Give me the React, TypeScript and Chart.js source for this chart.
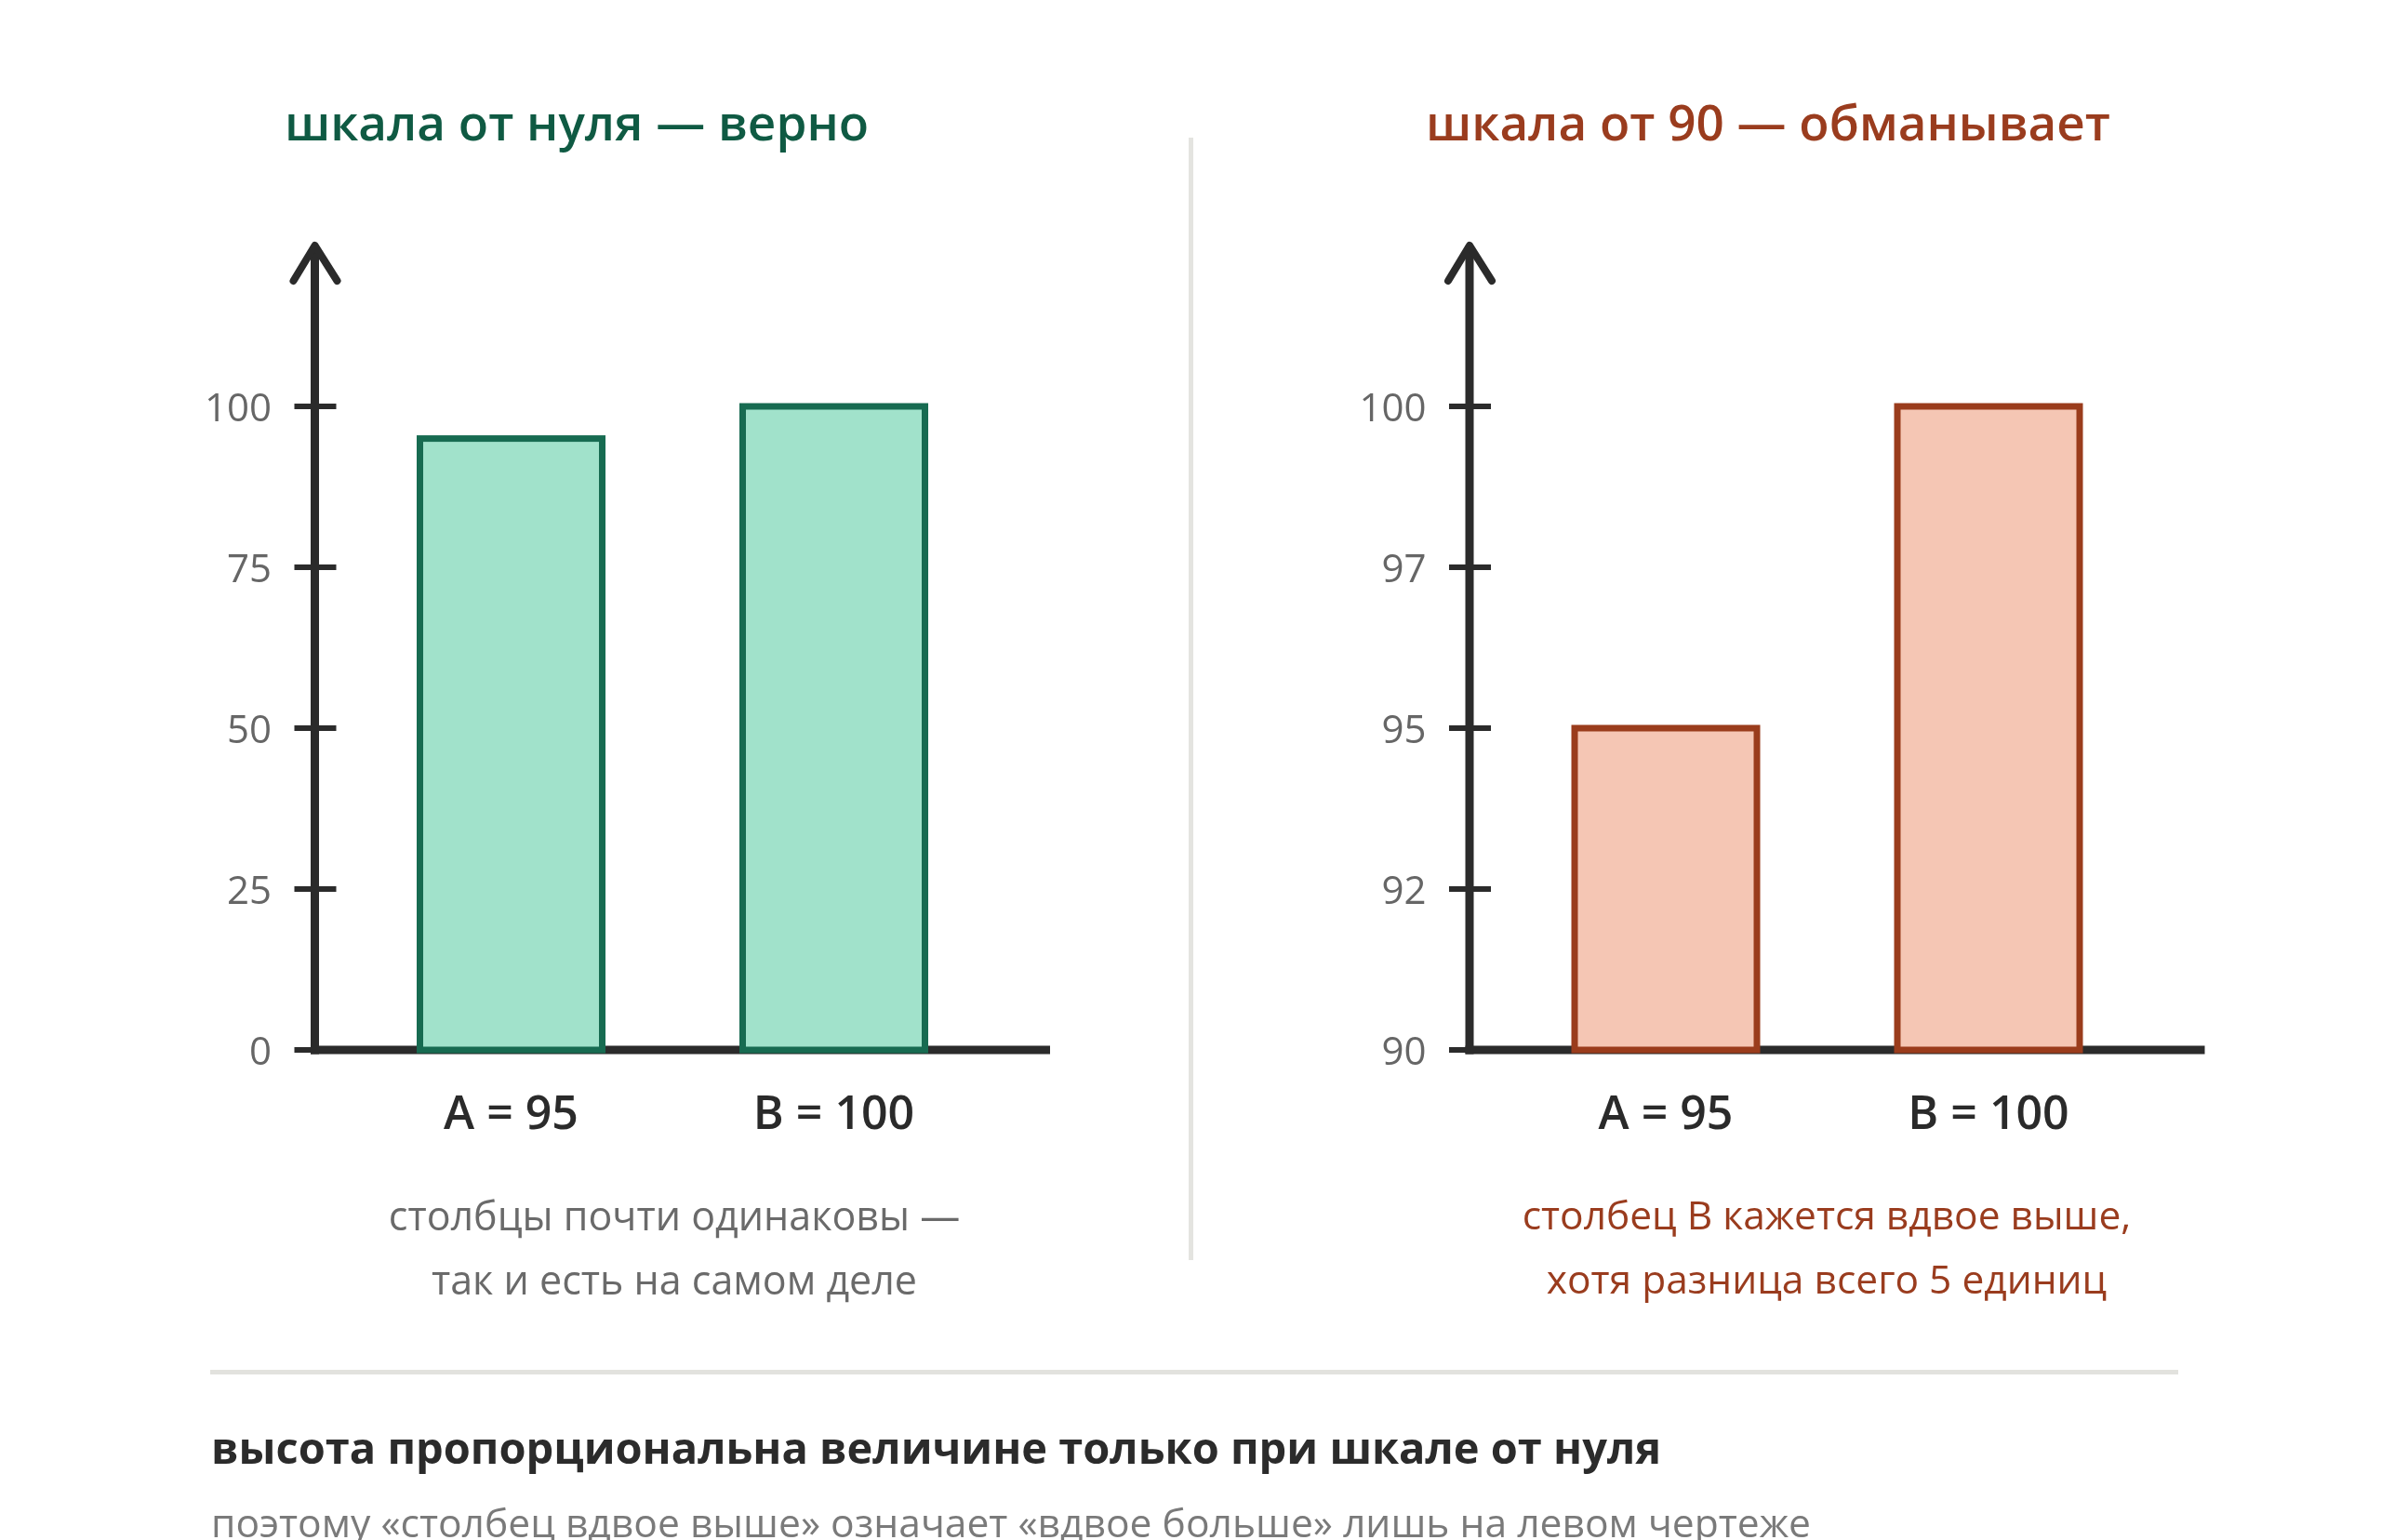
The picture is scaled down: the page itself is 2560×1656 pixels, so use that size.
import React, { useEffect, useRef } from "react";
import { Chart, registerables } from "chart.js";

Chart.register(...registerables);

// ---- data ----
const categories = ["A = 95", "B = 100"];
const values = [95, 100];

const leftTickValues = [0, 25, 50, 75, 100];
const leftTickLabels = ["0", "25", "50", "75", "100"];
const leftAxisMin = 0;
const leftAxisMax = 125;

const rightTickValues = [90, 92.5, 95, 97.5, 100];
const rightTickLabels = ["90", "92", "95", "97", "100"];
const rightAxisMin = 90;
const rightAxisMax = 102.5;

const leftTitle = "шкала от нуля — верно";
const rightTitle = "шкала от 90 — обманывает";
const leftCaption = ["столбцы почти одинаковы —", "так и есть на самом деле"];
const rightCaption = ["столбец В кажется вдвое выше,", "хотя разница всего 5 единиц"];
const heading = "высота пропорциональна величине только при шкале от нуля";
const subheading = "поэтому «столбец вдвое выше» означает «вдвое больше» лишь на левом чертеже";

// ---- style ----
const FONT = "'Open Sans', 'Noto Sans', sans-serif";
const AXIS_COLOR = "#2b2b2b";
const GREEN_FILL = "#a1e2cb";
const GREEN_LINE = "#176b51";
const GREEN_TEXT = "#0f5a43";
const RUST_FILL = "#f5c6b4";
const RUST_LINE = "#9a3c1c";
const RUST_TEXT = "#9a3c1e";

const PAGE_W = 2560;
const PAGE_H = 1656;
const AXIS_INSET = 37.5; // gap between y-axis line and category area
const AXIS_EXTRA = 59; // x-axis line beyond category area
const BAR_STROKE = 7;

const axisPlugin = {
  id: "handAxes",
  beforeDatasetsDraw(chart: any) {
    const { ctx, chartArea, scales } = chart;
    const y = scales.y;
    const ax = chartArea.left - AXIS_INSET;
    const base = chartArea.bottom;
    ctx.save();
    ctx.strokeStyle = AXIS_COLOR;
    ctx.lineCap = "butt";
    ctx.lineWidth = 9;
    ctx.beginPath();
    ctx.moveTo(ax - 4.5, base);
    ctx.lineTo(chartArea.right + AXIS_EXTRA, base);
    ctx.stroke();
    ctx.beginPath();
    ctx.moveTo(ax, base + 4.5);
    ctx.lineTo(ax, chartArea.top);
    ctx.stroke();
    ctx.lineWidth = 6;
    ctx.beginPath();
    y.ticks.forEach((t: any) => {
      const py = y.getPixelForValue(t.value);
      ctx.moveTo(ax - 22, py);
      ctx.lineTo(ax + 23, py);
    });
    ctx.stroke();
    ctx.lineWidth = 8;
    ctx.lineCap = "round";
    ctx.lineJoin = "round";
    ctx.beginPath();
    ctx.moveTo(ax - 23, chartArea.top + 38);
    ctx.lineTo(ax, chartArea.top);
    ctx.lineTo(ax + 24, chartArea.top + 38);
    ctx.stroke();
    ctx.restore();
  },
  afterDatasetsDraw(chart: any) {
    const { ctx } = chart;
    const meta = chart.getDatasetMeta(0);
    const color = chart.data.datasets[0].outlineColor;
    const basePx = chart.scales.y.getPixelForValue(chart.scales.y.min);
    ctx.save();
    ctx.strokeStyle = color;
    ctx.lineWidth = BAR_STROKE;
    ctx.lineJoin = "miter";
    meta.data.forEach((el: any) => {
      const p = el.getProps(["x", "y", "width"], true);
      ctx.strokeRect(p.x - p.width / 2, p.y, p.width, basePx - p.y);
    });
    ctx.restore();
  },
};

function makeConfig(p: {
  min: number;
  max: number;
  tickValues: number[];
  tickLabels: string[];
  fill: string;
  line: string;
  padLeft: number;
  padRight: number;
}): any {
  return {
    type: "bar",
    data: {
      labels: categories,
      datasets: [
        {
          data: values,
          base: p.min,
          backgroundColor: p.fill,
          outlineColor: p.line,
          borderWidth: 0,
          categoryPercentage: 1,
          barPercentage: 196 / 347,
        },
      ],
    },
    options: {
      responsive: false,
      animation: false,
      devicePixelRatio: 1,
      events: [],
      layout: { padding: { left: p.padLeft, right: p.padRight, top: 264, bottom: 407 } },
      plugins: { legend: { display: false }, tooltip: { enabled: false } },
      scales: {
        x: {
          offset: true,
          grid: { display: false, drawTicks: false },
          border: { display: false },
          ticks: {
            padding: 41,
            color: "#2a2a2a",
            font: { family: FONT, size: 50, weight: "600", lineHeight: 1.2 },
          },
          afterFit: (s: any) => {
            s.height = 120;
          },
        },
        y: {
          min: p.min,
          max: p.max,
          grid: { display: false, drawTicks: false },
          border: { display: false },
          afterBuildTicks: (s: any) => {
            s.ticks = p.tickValues.map((v) => ({ value: v }));
          },
          ticks: {
            padding: 84,
            labelOffset: 4,
            color: "#666666",
            font: { family: FONT, size: 42, weight: "400" },
            callback: (v: any) => {
              const i = p.tickValues.indexOf(Number(v));
              return i >= 0 ? p.tickLabels[i] : "";
            },
          },
          afterFit: (s: any) => {
            s.width = 200;
          },
        },
      },
    },
    plugins: [axisPlugin],
  };
}

function BarPanel(props: { cfg: any }) {
  const ref = useRef<HTMLCanvasElement | null>(null);
  useEffect(() => {
    if (!ref.current) return;
    const chart = new Chart(ref.current, props.cfg);
    return () => chart.destroy();
  }, []);
  return (
    <canvas
      ref={ref}
      width={PAGE_W}
      height={PAGE_H}
      style={{ position: "absolute", left: 0, top: 0, width: PAGE_W, height: PAGE_H }}
    />
  );
}

function Text(props: {
  text: string;
  x: number;
  baseline: number;
  size: number;
  weight?: number;
  color: string;
  align?: "left" | "center";
}) {
  const { text, x, baseline, size, weight = 400, color, align = "center" } = props;
  return (
    <div
      style={{
        position: "absolute",
        left: x,
        top: baseline - 0.888 * size,
        transform: align === "center" ? "translateX(-50%)" : undefined,
        fontFamily: FONT,
        fontSize: size,
        lineHeight: `${size}px`,
        fontWeight: weight,
        color,
        whiteSpace: "nowrap",
      }}
    >
      {text}
    </div>
  );
}

export default function App() {
  useEffect(() => {
    document.body.style.margin = "0";
    document.body.style.background = "#ffffff";
  }, []);

  const leftCfg = makeConfig({
    min: leftAxisMin,
    max: leftAxisMax,
    tickValues: leftTickValues,
    tickLabels: leftTickLabels,
    fill: GREEN_FILL,
    line: GREEN_LINE,
    padLeft: 176,
    padRight: PAGE_W - 1070,
  });
  const rightCfg = makeConfig({
    min: rightAxisMin,
    max: rightAxisMax,
    tickValues: rightTickValues,
    tickLabels: rightTickLabels,
    fill: RUST_FILL,
    line: RUST_LINE,
    padLeft: 1417.5,
    padRight: PAGE_W - 2311.5,
  });

  return (
    <div
      style={{
        position: "relative",
        width: PAGE_W,
        height: PAGE_H,
        overflow: "hidden",
        background: "#ffffff",
      }}
    >
      <BarPanel cfg={leftCfg} />
      <BarPanel cfg={rightCfg} />

      <div
        style={{
          position: "absolute",
          left: 1277.5,
          top: 148,
          width: 5,
          height: 1207,
          background: "#e4e4e0",
        }}
      />
      <div
        style={{
          position: "absolute",
          left: 226,
          top: 1472.5,
          width: 2116,
          height: 5,
          background: "#e2e2de",
        }}
      />

      <Text text={leftTitle} x={620} baseline={151} size={53} weight={600} color={GREEN_TEXT} />
      <Text text={rightTitle} x={1901} baseline={151} size={53} weight={600} color={RUST_TEXT} />

      <Text text={leftCaption[0]} x={725} baseline={1323} size={43} color="#6a6a6a" />
      <Text text={leftCaption[1]} x={725} baseline={1392} size={43} color="#6a6a6a" />
      <Text text={rightCaption[0]} x={1964} baseline={1323} size={42.5} color={RUST_TEXT} />
      <Text text={rightCaption[1]} x={1964} baseline={1392} size={42.5} color={RUST_TEXT} />

      <Text text={heading} x={227} baseline={1575} size={47} weight={700} color="#2b2b2b" align="left" />
      <Text text={subheading} x={227} baseline={1653} size={42.6} color="#7a7a7a" align="left" />
    </div>
  );
}
